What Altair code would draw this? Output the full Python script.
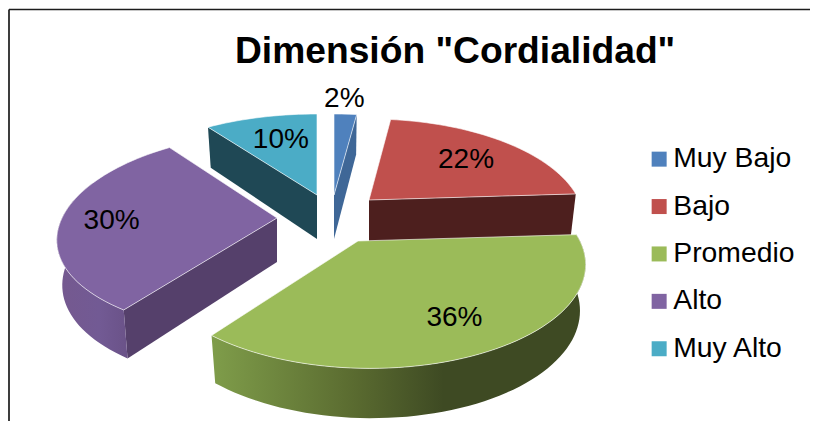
import math
import altair as alt

CATEGORIES = ["Muy Bajo", "Bajo", "Promedio", "Alto", "Muy Alto"]
PERCENTS = [2, 22, 36, 30, 10]
TOP_COLORS = ["#4f81bd", "#c0504d", "#9bbb59", "#8064a2", "#4bacc6"]
WALL_COLORS = ["#3f6797", "#4d1f1e", "#3e4a23", "#55406b", "#1f4855"]
TITLE = 'Dimensión "Cordialidad"'

# exploded 3-D layout (page pixels)
APEX = [(334, 195), (369, 200), (358, 241), (277, 218), (317, 195)]
RADIUS = [220, 210, 212, 215, 218]
SKEW = [0.0, 0.0, -0.045, 0.0, 0.0]
RADIAL_WALL = ["end", "end", None, "start", "start"]
OUTER_WALL = [None, None, (86.4, 216), (216, 292), None]
LABEL_FRACTION = [1.22, 0.66, 0.78, 0.76, 0.68]
LABEL_NUDGE = [(-3, -1), (5, 1), (1, -4), (-2, 3), (4, 1)]
KV = 0.217
KV_Y = [0.217, 0.217, 0.225, 0.164, 0.217]
RY = 98.6

W, H = 802, 413


def project(i, deg, f=1.0, lower=False):
    u, v = f * math.sin(math.radians(deg)), f * math.cos(math.radians(deg))
    w = 1 + KV * v + SKEW[i] * u
    wy = 1 + KV_Y[i] * v + SKEW[i] * u
    x, y = RADIUS[i] * u / w, -RY * v / wy
    if lower:
        x *= 0.975
        y += 44 / w ** 0.5
    return [APEX[i][0] + x - 8, APEX[i][1] + y - 8]


def arc(i, a, b, lower=False):
    n = max(2, int(abs(b - a) / 2))
    return [project(i, a + (b - a) * k / n, lower=lower) for k in range(n + 1)]


def feature(ring, **props):
    ring = ring + [ring[0]]
    return {"type": "Feature", "properties": props,
            "geometry": {"type": "Polygon", "coordinates": [ring]}}


edges, c = [], 0
for p in PERCENTS:
    edges.append((c * 3.6, (c + p) * 3.6))
    c += p

tops, radial, outer, labels = [], [], {}, []
for i, name in enumerate(CATEGORIES):
    a, b = edges[i]
    centre = project(i, 0, 0)
    tops.append(feature([centre] + arc(i, a, b), cat=name))
    if RADIAL_WALL[i]:
        d = b if RADIAL_WALL[i] == "end" else a
        radial.append(feature([centre, project(i, d), project(i, d, lower=True),
                               project(i, 0, 0, lower=True)], fill=WALL_COLORS[i]))
    if OUTER_WALL[i]:
        s, e = OUTER_WALL[i]
        outer[i] = feature(arc(i, s, e) + arc(i, e, s, lower=True), cat=name)
    lx, ly = project(i, (a + b) / 2, LABEL_FRACTION[i])
    labels.append({"lon": lx + LABEL_NUDGE[i][0], "lat": ly + LABEL_NUDGE[i][1],
                   "text": f"{PERCENTS[i]}%"})

proj = dict(type="identity", scale=1, translate=[0, 0])


def gradient(stops):
    return alt.Gradient(gradient="linear", x1=0, x2=1, y1=0, y2=0,
                        stops=[alt.GradientStop(offset=o, color=k) for o, k in stops])


frame_top = alt.Chart(alt.Data(values=[{}])).mark_rule(color="#1c1c1c", strokeWidth=1.7).encode(
    x=alt.value(1), x2=alt.value(W), y=alt.value(1.5))
frame_left = alt.Chart(alt.Data(values=[{}])).mark_rule(color="#1c1c1c", strokeWidth=1.7).encode(
    x=alt.value(1), y=alt.value(1.5), y2=alt.value(H))

radial_layer = alt.Chart(alt.Data(values=radial)).mark_geoshape().encode(
    fill=alt.Fill("properties.fill:N", scale=None)).project(**proj)

green_wall = alt.Chart(alt.Data(values=[outer[2]])).mark_geoshape(
    fill=gradient([(0, "#7f9d4a"), (0.38, "#5a6b30"), (0.62, "#3e4a23"), (1, "#3e4a23")])
).project(**proj)
purple_wall = alt.Chart(alt.Data(values=[outer[3]])).mark_geoshape(
    fill=gradient([(0, "#75598f"), (0.6, "#725a94"), (1, "#6a5288")])
).project(**proj)

top_layer = alt.Chart(alt.Data(values=tops)).mark_geoshape(stroke="white", strokeWidth=0.6).encode(
    fill=alt.Fill(
        "properties.cat:N",
        scale=alt.Scale(domain=CATEGORIES, range=TOP_COLORS),
        sort=CATEGORIES,
        legend=alt.Legend(
            title=None, orient="none", legendX=637, legendY=137,
            symbolType="square", symbolSize=225, symbolStrokeWidth=0,
            labelFontSize=28.3, labelFont="Liberation Sans", labelColor="#000000",
            labelOffset=0, rowPadding=18.4, labelLimit=200,
        ),
    )).project(**proj)

text_layer = alt.Chart(alt.Data(values=labels)).mark_text(
    font="Liberation Sans", fontSize=28, color="#000000").encode(
    longitude="lon:Q", latitude="lat:Q", text="text:N").project(**proj)

chart = alt.layer(
    frame_top, frame_left, radial_layer, green_wall, purple_wall, top_layer, text_layer
).properties(
    width=W, height=H, padding=0,
    autosize=alt.AutoSizeParams(type="none"),
    title=alt.TitleParams(
        TITLE, font="Liberation Sans", fontSize=37.2, fontWeight="bold", color="#000000",
        anchor="start", frame="group", dx=227, dy=63, offset=0,
    ),
).configure_view(stroke=None)

chart.save("out.html", embed_options={"renderer": "svg", "actions": False})
